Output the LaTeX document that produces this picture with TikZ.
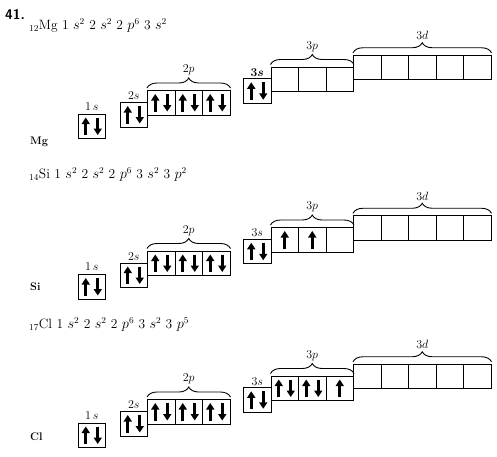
\documentclass[tikz,border=0pt]{standalone}
\usepackage{amsmath}
\usepackage{amssymb}
\usepackage{tikz}
\usetikzlibrary{arrows.meta,decorations.pathreplacing}

\tikzset{
  orb/.style={draw, line width=1pt, minimum width=27.5pt, minimum height=24.5pt, inner sep=0pt, anchor=north west},
  spin/.style={line width=2.6pt, -{Triangle[width=8pt,length=6.5pt]}},
  brc/.style={decorate, decoration={brace, amplitude=10pt, raise=2pt}, line width=0.9pt},
  lvl/.style={inner sep=0pt, font=\fontsize{12.5}{14}\selectfont},
  conf/.style={anchor=west, inner sep=0pt, font=\fontsize{13.5}{15}\selectfont},
  elem/.style={anchor=west, inner sep=0pt, font=\fontsize{11}{13}\selectfont\bfseries},
}

\begin{document}
\begin{tikzpicture}[x=1pt,y=-1pt]
\useasboundingbox (0,0) rectangle (497,456);
\def\bw{27.5}

% boxes, braces and level names of one atom: #1 name, #2 top of the 2p row, #3 text of 3s
\def\shells#1#2#3{%
  \node[orb] (#1-1s) at (77.5,#2+23.5) {};
  \node[orb] (#1-2s) at (119.5,#2+12) {};
  \foreach \i in {1,2,3} \node[orb] (#1-2p\i) at (119.5+\bw*\i,#2) {};
  \node[orb] (#1-3s) at (243,#2-11.75) {};
  \foreach \i in {1,2,3} \node[orb] (#1-3p\i) at (243+\bw*\i,#2-23.5) {};
  \foreach \i in {1,...,5} \node[orb] (#1-3d\i) at (325.5+\bw*\i,#2-35.25) {};
  \node[lvl, above=3pt] (#1-l1s) at (#1-1s.north) {$1\,s$};
  \node[lvl, above=2pt] (#1-l2s) at (#1-2s.north) {$2s$};
  \node[lvl, above=2pt] (#1-l3s) at (#1-3s.north) {#3};
  \draw[brc] (#1-2p1.north west) -- (#1-2p3.north east) node[lvl, midway, above=14.5pt] (#1-l2p) {$2p$};
  \draw[brc] (#1-3p1.north west) -- (#1-3p3.north east) node[lvl, midway, above=14.5pt] (#1-l3p) {$3p$};
  \draw[brc] (#1-3d1.north west) -- (#1-3d5.north east) node[lvl, midway, above=14.5pt] (#1-l3d) {$3d$};
}
\def\pairup#1{%
  \draw[spin] ([xshift=-6pt,yshift=4pt]#1.south) -- ([xshift=-6pt,yshift=-4pt]#1.north);
  \draw[spin] ([xshift=6pt,yshift=-4pt]#1.north) -- ([xshift=6pt,yshift=4pt]#1.south);}
\def\oneup#1{%
  \draw[spin] ([yshift=4pt]#1.south) -- ([yshift=-4pt]#1.north);}

\node[anchor=west, inner sep=0pt, font=\fontsize{14}{16}\selectfont\sffamily\bfseries] (num) at (5,14) {41.};

% Mg
\node[conf] (mgconf) at (29,25.5) {$_{12}$Mg 1 $s^2$ 2 $s^2$ 2 $p^6$ 3 $s^2$};
\node[elem] (mg) at (30,141.5) {Mg};
\shells{mg}{90}{$\boldsymbol{3s}$}
\foreach \n in {mg-1s,mg-2s,mg-2p1,mg-2p2,mg-2p3,mg-3s} {\pairup{\n}}

% Si
\node[conf] (siconf) at (29,174.5) {$_{14}$Si 1 $s^2$ 2 $s^2$ 2 $p^6$ 3 $s^2$ 3 $p^2$};
\node[elem] (si) at (30,287) {Si};
\shells{si}{250.5}{$3s$}
\foreach \n in {si-1s,si-2s,si-2p1,si-2p2,si-2p3,si-3s} {\pairup{\n}}
\oneup{si-3p1}
\oneup{si-3p2}

% Cl
\node[conf] (clconf) at (29,324.5) {$_{17}$Cl 1 $s^2$ 2 $s^2$ 2 $p^6$ 3 $s^2$ 3 $p^5$};
\node[elem] (cl) at (30,437) {Cl};
\shells{cl}{399}{$3s$}
\foreach \n in {cl-1s,cl-2s,cl-2p1,cl-2p2,cl-2p3,cl-3s,cl-3p1,cl-3p2} {\pairup{\n}}
\oneup{cl-3p3}
\end{tikzpicture}
\end{document}
